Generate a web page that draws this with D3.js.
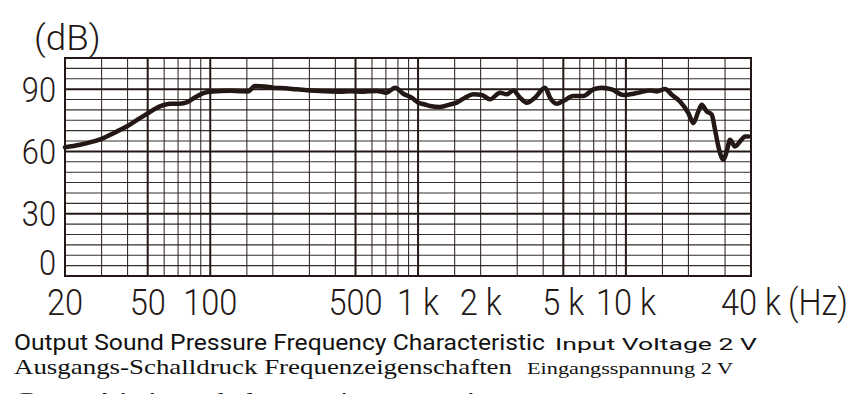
<!DOCTYPE html>
<html>
<head>
<meta charset="utf-8">
<script src="https://d3js.org/d3.v7.min.js"></script>
<style>
  body { margin: 0; background: #fff; }
  svg { display: block; }
</style>
</head>
<body>
<div id="chart"></div>
<script>
// measured response, frequency in Hz and level in dB
var freqs = [20, 23.6, 27.4, 30.6, 34.2, 39.6, 45.9, 50.3, 57.3, 64, 71.5, 77, 86, 92.6, 103,
  124, 139, 152, 164, 183, 200, 229, 261, 302, 337, 421, 470, 545, 632, 706, 775, 849, 932,
  1003, 1080, 1142, 1275, 1425, 1535, 1683, 1845, 2024, 2219, 2480, 2672, 2874, 3094, 3333,
  3654, 4084, 4316, 4648, 5000, 5586, 6238, 6974, 7652, 8548, 9724, 11278, 13070, 14082,
  15437, 16624, 18222, 19980, 21123, 22328, 23177, 24500, 25888, 26858, 27860, 29446,
  30570, 31698, 33520, 35440, 37460, 38860];
var spl = [62, 63.2, 64.8, 66.4, 68.8, 72, 76, 78.5, 81.7, 83, 83, 83.6, 86.5, 88.1, 88.9,
  89.2, 89, 88.9, 91.5, 91.3, 90.7, 90.4, 89.9, 89.4, 89.1, 88.8, 89, 88.8, 89.1, 88.3, 90.7,
  87.8, 85.9, 83.5, 82.6, 81.9, 81.4, 82.6, 83.5, 85.9, 87.5, 87.2, 85.1, 88.3, 87.5, 89.4,
  85.9, 83.5, 85.9, 90.7, 85.9, 83, 84.3, 86.7, 86.7, 89.9, 90.7, 89.9, 87.2, 88.1, 89.4,
  88.9, 90.1, 87.3, 84.1, 78.5, 73.7, 79.3, 82.5, 79.3, 77.7, 70.4, 62.4, 56, 60, 65.6,
  62.4, 64.8, 67.2, 67.2];

// grid
var vGrid = [30, 40, 60, 70, 80, 90, 150, 200, 300, 400, 600, 700, 800, 900, 1500, 2000,
  3000, 4000, 6000, 7000, 8000, 9000, 15000, 20000, 30000];
var vBold = [50, 100, 500, 1000, 5000, 10000];
var hGrid = [5, 10, 15, 20, 25, 35, 40, 45, 50, 55, 65, 70, 75, 80, 85, 95, 100];
var hBold = [30, 60, 90];

// tick labels
var xTicks = [20, 50, 100, 500, 1000, 2000, 5000, 10000, 40000];
var xTickText = ["20", "50", "100", "500", "1 k", "2 k", "5 k", "10 k", "40 k"];
var yTicks = [0, 30, 60, 90];

var W = 866, H = 394;
var margin = {top: 58, left: 65},
    width = 686,
    height = 218;
var ink = "#231815";
var sans = "Roboto, 'DejaVu Sans', sans-serif";
var sx = 0.88;   // horizontal squeeze for the condensed lettering

var svg = d3.select("#chart").append("svg")
  .attr("width", W).attr("height", H);

var g = svg.append("g")
  .attr("transform", "translate(" + margin.left + "," + margin.top + ")");

var x = d3.scaleLog().domain([20, 40000]).range([0, width]);
var y = d3.scaleLinear().domain([0, 105]).range([height, 0]);

// thin grid lines
g.selectAll(".vg").data(vGrid).enter().append("line")
  .attr("x1", function(d) { return x(d); }).attr("x2", function(d) { return x(d); })
  .attr("y1", 0).attr("y2", height)
  .attr("stroke", ink).attr("stroke-width", 1.1).attr("opacity", 0.9);
g.selectAll(".hg").data(hGrid).enter().append("line")
  .attr("x1", 0).attr("x2", width)
  .attr("y1", function(d) { return y(d); }).attr("y2", function(d) { return y(d); })
  .attr("stroke", ink).attr("stroke-width", 1.1).attr("opacity", 0.9);

// bold grid lines
g.selectAll(".vb").data(vBold).enter().append("line")
  .attr("x1", function(d) { return x(d); }).attr("x2", function(d) { return x(d); })
  .attr("y1", 0).attr("y2", height)
  .attr("stroke", ink).attr("stroke-width", 2);
g.selectAll(".hb").data(hBold).enter().append("line")
  .attr("x1", 0).attr("x2", width)
  .attr("y1", function(d) { return y(d); }).attr("y2", function(d) { return y(d); })
  .attr("stroke", ink).attr("stroke-width", 2);

// frame
g.append("rect")
  .attr("width", width).attr("height", height)
  .attr("fill", "none").attr("stroke", ink).attr("stroke-width", 2);

// response curve
var pts = freqs.map(function(f, i) { return [f, spl[i]]; });
var line = d3.line()
  .x(function(d) { return x(d[0]); })
  .y(function(d) { return y(d[1]); })
  .curve(d3.curveMonotoneX);
g.append("path")
  .datum(pts)
  .attr("d", line)
  .attr("fill", "none")
  .attr("stroke", ink)
  .attr("stroke-width", 4.5)
  .attr("stroke-linejoin", "round")
  .attr("stroke-linecap", "round");

// condensed label helper
function label(parent, tx, ty, txt, anchor, size, k) {
  parent.append("text")
    .attr("transform", "translate(" + tx + "," + ty + ") scale(" + (k || sx) + ",1)")
    .attr("text-anchor", anchor)
    .attr("font-family", sans)
    .attr("font-weight", 300)
    .attr("font-size", size)
    .attr("fill", ink)
    .text(txt);
}

// y labels
yTicks.forEach(function(d) {
  var ty = (d == 0 ? y(6.5) : y(d)) + 12.5;
  label(g, -9, ty, d, "end", 35);
});
label(svg, 34, 50, "(dB)", "start", 35, 1.05);

// x labels
xTicks.forEach(function(d, i) {
  label(g, x(d), height + 39, xTickText[i], "middle", 37);
});
label(svg, 788, 315, "(Hz)", "start", 37);

// captions
var serif = "'Liberation Serif', 'DejaVu Serif', serif";
function caption(txt, x0, x1, yb, size, fam) {
  svg.append("text")
    .attr("x", x0).attr("y", yb)
    .attr("font-family", fam)
    .attr("font-size", size)
    .attr("fill", "#111")
    .attr("textLength", x1 - x0)
    .attr("lengthAdjust", "spacingAndGlyphs")
    .text(txt);
}
caption("Output Sound Pressure Frequency Characteristic", 14, 545, 350, 21.5, sans);
caption("Input Voltage 2 V", 555, 757, 350, 17, sans);
caption("Ausgangs-Schalldruck Frequenzeigenschaften", 14, 512, 374, 21, serif);
caption("Eingangsspannung 2 V", 527, 733, 374, 17, serif);
caption("Caractéristique de la pression acoustique", 14, 520, 407, 22, serif);
caption("Tension d'entrée 2 V", 560, 740, 407, 17, serif);
</script>
</body>
</html>
